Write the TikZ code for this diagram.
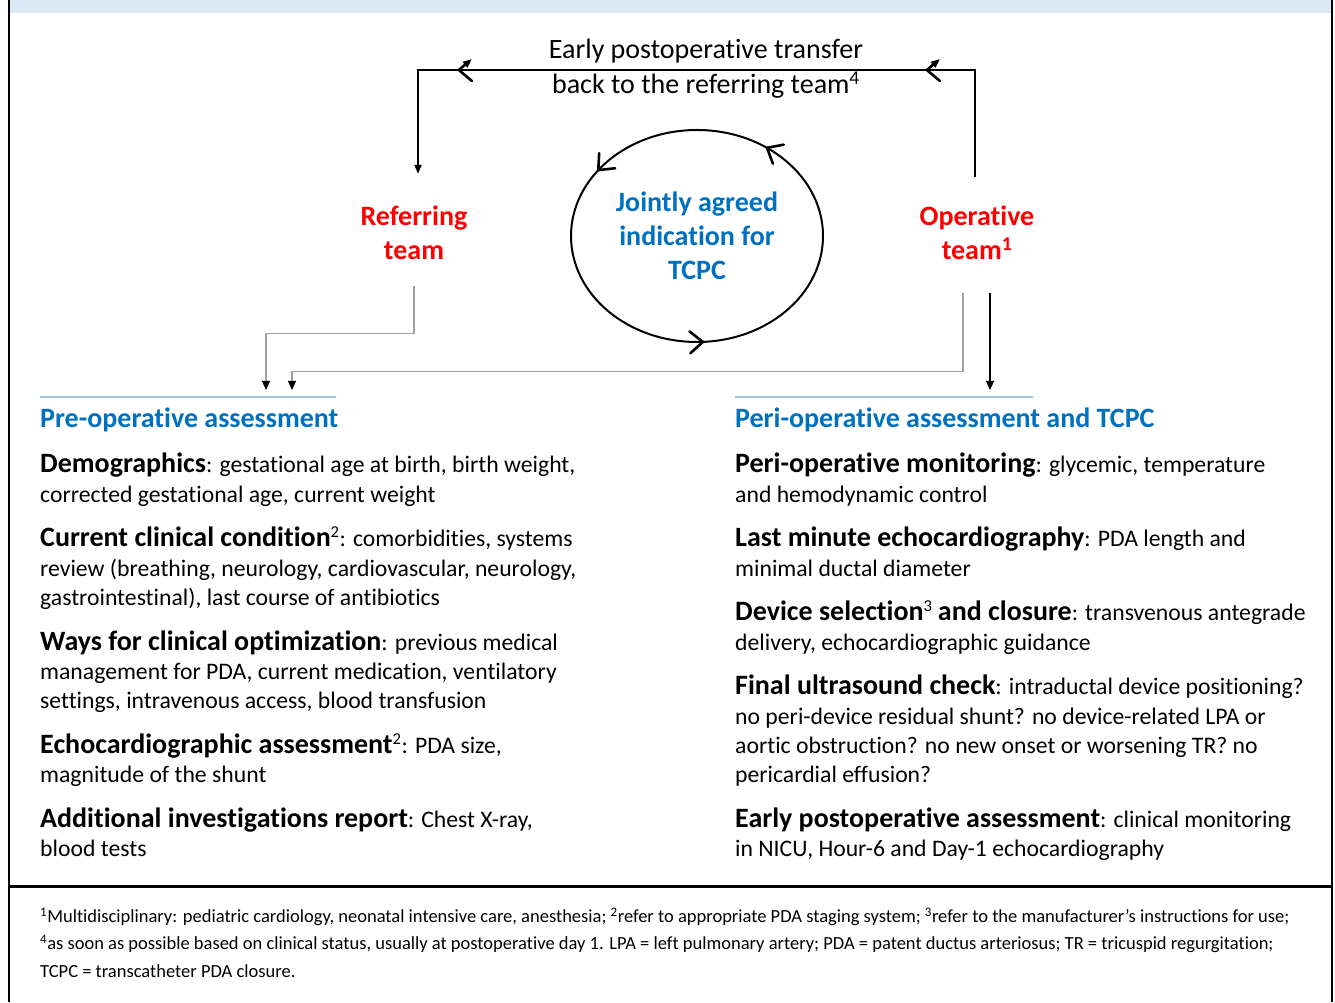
\documentclass[tikz,border=0pt]{standalone}
\usepackage{fontspec}
\setmainfont{Carlito}[Ligatures=NoCommon]
\usepackage{tikz}
\definecolor{teamred}{RGB}{255, 0, 0}
\definecolor{headblue}{RGB}{0, 112, 192}
\definecolor{bandblue}{RGB}{221, 233, 245}
\definecolor{ruleblue}{RGB}{157, 195, 230}
\definecolor{feedgray}{RGB}{160, 160, 160}
\usetikzlibrary{arrows.meta, positioning, decorations.markings}

\newcommand{\itemlead}[1]{{\fontsize{28}{29.3}\selectfont\bfseries #1}}
\newcommand{\chev}{\draw[line width=2.6pt, line cap=round, line join=miter] (-13pt,11pt) -- (0pt,0pt) -- (-13pt,-11pt);}

\begin{document}
\begin{tikzpicture}[
        x=1pt, y=1pt,
        node distance=15pt,
        team/.style={font=\fontsize{28}{34}\selectfont\bfseries, text=teamred, align=center, inner sep=0pt},
        heading/.style={font=\fontsize{28}{30}\selectfont\bfseries, text=headblue, anchor=base west, inner sep=0pt},
        entry/.style={font=\fontsize{23.7}{29.3}\selectfont, align=left, anchor=north west, inner sep=0pt},
        note/.style={font=\fontsize{18.5}{27.5}\selectfont, align=left, anchor=north west, inner sep=0pt},
        back/.style={line width=2pt, -{Triangle[length=9pt, width=7pt]},
            postaction={decorate},
            decoration={markings,
                mark=at position 155pt with {\chev},
                mark=at position 623pt with {\chev}}},
        cycleline/.style={line width=2pt,
            postaction={decorate},
            decoration={markings,
                mark=at position 0.150 with {\chev},
                mark=at position 0.400 with {\chev},
                mark=at position 0.758 with {\chev}}},
        feed/.style={line width=1.2pt, draw=feedgray, -{Triangle[length=9pt, width=8pt, color=black]}},
        down/.style={line width=1.2pt, -{Triangle[length=9pt, width=8pt]}},
        rule/.style={line width=1.2pt, draw=ruleblue},
        frame/.style={line width=2.5pt}
    ]
        \useasboundingbox (0,0) rectangle (1335,1002);

        % frame
        \fill[bandblue] (10,989) rectangle (1331,1002);
        \draw[frame] (9,0) -- (9,1002);
        \draw[frame] (1332,0) -- (1332,1002);
        \draw[line width=3pt] (9,116) -- (1332,116);

        % teams and agreement
        \node[team] (ref) at (414,769) {Referring\\team};
        \node[team] (op) at (977,769) {Operative\\team\textsuperscript{1}};
        \node[font=\fontsize{28}{34}\selectfont\bfseries, text=headblue, align=center] (agree) at (697,766) {Jointly agreed\\indication for\\TCPC};
        \node[font=\fontsize{28}{35}\selectfont, align=center] (transfer) at (706,933) {Early postoperative transfer\\back to the referring team\textsuperscript{4}};

        \coordinate (backR) at (975,932);
        \coordinate (backL) at (418,932);
        \draw[back] ([yshift=29pt]op.north -| backR) -- (backR) -- (backL) -- ([yshift=32pt]ref.north -| backL);
        \draw[cycleline] (agree.center) ++(126,0) arc[start angle=0, end angle=360, x radius=126pt, y radius=106pt];

        % columns
        \node[heading] (pre) at (40,574) {Pre-operative assessment};
        \node[heading] (peri) at (735,574) {Peri-operative assessment and TCPC};
        \draw[rule] ([yshift=31pt]pre.base west) -- ++(296,0);
        \draw[rule] ([yshift=31pt]peri.base west) -- ++(298,0);

        \coordinate (preIn1) at (266,612);
        \coordinate (preIn2) at (292,612);
        \coordinate (periIn) at (990,612);
        \draw[feed] ([yshift=-26pt]ref.south) -- ++(0,-47) -| (preIn1);
        \draw[feed] ([xshift=-14pt, yshift=-33pt]op.south) -- ++(0,-78) -| (preIn2);
        \draw[down] ([xshift=13pt, yshift=-33pt]op.south) -- (periIn);

        \node[entry] (demo) at (40,550) {\strut\itemlead{Demographics}: gestational age at birth, birth weight,\\corrected gestational age, current weight\strut};
        \node[entry, below=of demo.south west, anchor=north west] (clin) {\strut\itemlead{Current clinical condition}\textsuperscript{2}: comorbidities, systems\\review (breathing, neurology, cardiovascular, neurology,\\gastrointestinal), last course of antibiotics\strut};
        \node[entry, below=of clin.south west, anchor=north west] (optim) {\strut\itemlead{Ways for clinical optimization}: previous medical\\management for PDA, current medication, ventilatory\\settings, intravenous access, blood transfusion\strut};
        \node[entry, below=of optim.south west, anchor=north west] (echo) {\strut\itemlead{Echocardiographic assessment}\textsuperscript{2}: PDA size,\\magnitude of the shunt\strut};
        \node[entry, below=of echo.south west, anchor=north west] (extra) {\strut\itemlead{Additional investigations report}: Chest X-ray,\\blood tests\strut};

        \node[entry] (moni) at (735,550) {\strut\itemlead{Peri-operative monitoring}: glycemic, temperature\\and hemodynamic control\strut};
        \node[entry, below=of moni.south west, anchor=north west] (last) {\strut\itemlead{Last minute echocardiography}: PDA length and\\minimal ductal diameter\strut};
        \node[entry, below=of last.south west, anchor=north west] (device) {\strut\itemlead{Device selection}\textsuperscript{3} \itemlead{and closure}: transvenous antegrade\\delivery, echocardiographic guidance\strut};
        \node[entry, below=of device.south west, anchor=north west] (check) {\strut\itemlead{Final ultrasound check}: intraductal device positioning?\\no peri-device residual shunt? no device-related LPA or\\aortic obstruction? no new onset or worsening TR? no\\pericardial effusion?\strut};
        \node[entry, below=of check.south west, anchor=north west] (early) {\strut\itemlead{Early postoperative assessment}: clinical monitoring\\in NICU, Hour-6 and Day-1 echocardiography\strut};

        % footnote
        \node[note] (notes) at (40,99) {\strut\textsuperscript{1}Multidisciplinary: pediatric cardiology, neonatal intensive care, anesthesia; \textsuperscript{2}refer to appropriate PDA staging system; \textsuperscript{3}refer to the manufacturer's instructions for use;\\\textsuperscript{4}as soon as possible based on clinical status, usually at postoperative day 1. LPA = left pulmonary artery; PDA = patent ductus arteriosus; TR = tricuspid regurgitation;\\TCPC = transcatheter PDA closure.\strut};

    \end{tikzpicture}
\end{document}
